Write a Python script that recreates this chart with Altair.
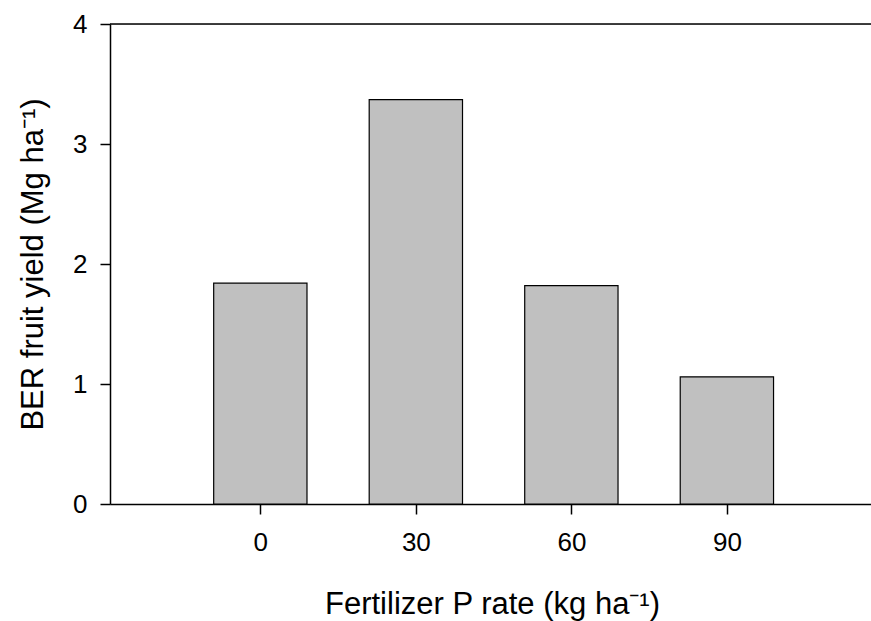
import altair as alt
import pandas as pd

rates = [0, 30, 60, 90]
yields = [1.84, 3.37, 1.82, 1.06]
x_ticks = [0, 30, 60, 90]
y_ticks = [0, 1, 2, 3, 4]
bar_half_width = 9

FONT = "Liberation Sans"

df = pd.DataFrame({"rate": rates, "yield": yields})

x_scale = alt.Scale(domain=[-29, 117.8], nice=False, zero=False)
y_scale = alt.Scale(domain=[0, 4], nice=False)

bars = alt.Chart(df).transform_calculate(
    x1=f"datum.rate - {bar_half_width}",
    x2=f"datum.rate + {bar_half_width}",
).mark_rect(fill="#c0c0c0", stroke="black", strokeWidth=1.2).encode(
    x=alt.X("x1:Q", scale=x_scale,
            axis=alt.Axis(values=x_ticks, format="d", title="Fertilizer P rate (kg ha⁻¹)",
                          grid=False, domainColor="black", domainWidth=1.5,
                          tickColor="black", tickWidth=1.5, tickSize=10,
                          labelFontSize=26, labelFont=FONT, labelColor="black",
                          labelPadding=15,
                          titleFontSize=31, titleFont=FONT, titleFontWeight="normal",
                          titleColor="black", titleBaseline="alphabetic",
                          titleY=109, titleX=382, titleAnchor="middle")),
    x2="x2:Q",
    y=alt.Y("yield:Q", scale=y_scale,
            axis=alt.Axis(values=y_ticks, format="d", title="BER fruit yield (Mg ha⁻¹)",
                          grid=False, domainColor="black", domainWidth=1.5,
                          tickColor="black", tickWidth=1.5, tickSize=10,
                          labelFontSize=26, labelFont=FONT, labelColor="black",
                          labelPadding=13,
                          titleFontSize=31, titleFont=FONT, titleFontWeight="normal",
                          titleColor="black", titleAngle=270, titleBaseline="alphabetic",
                          titleX=-68, titleY=240, titleAnchor="middle")),
    y2=alt.Y2(datum=0),
)

top_line = alt.Chart(pd.DataFrame({"top": [4]})).mark_rule(
    color="black", strokeWidth=1.5
).encode(y=alt.Y("top:Q", scale=y_scale))

chart = alt.layer(bars, top_line).properties(
    width=761, height=480,
    autosize=alt.AutoSizeParams(type="none"),
    padding={"left": 110, "top": 24, "right": 0, "bottom": 117},
).configure_view(stroke=None).configure(background="white")

chart.save("out.html", embed_options={"renderer": "svg", "actions": False})
